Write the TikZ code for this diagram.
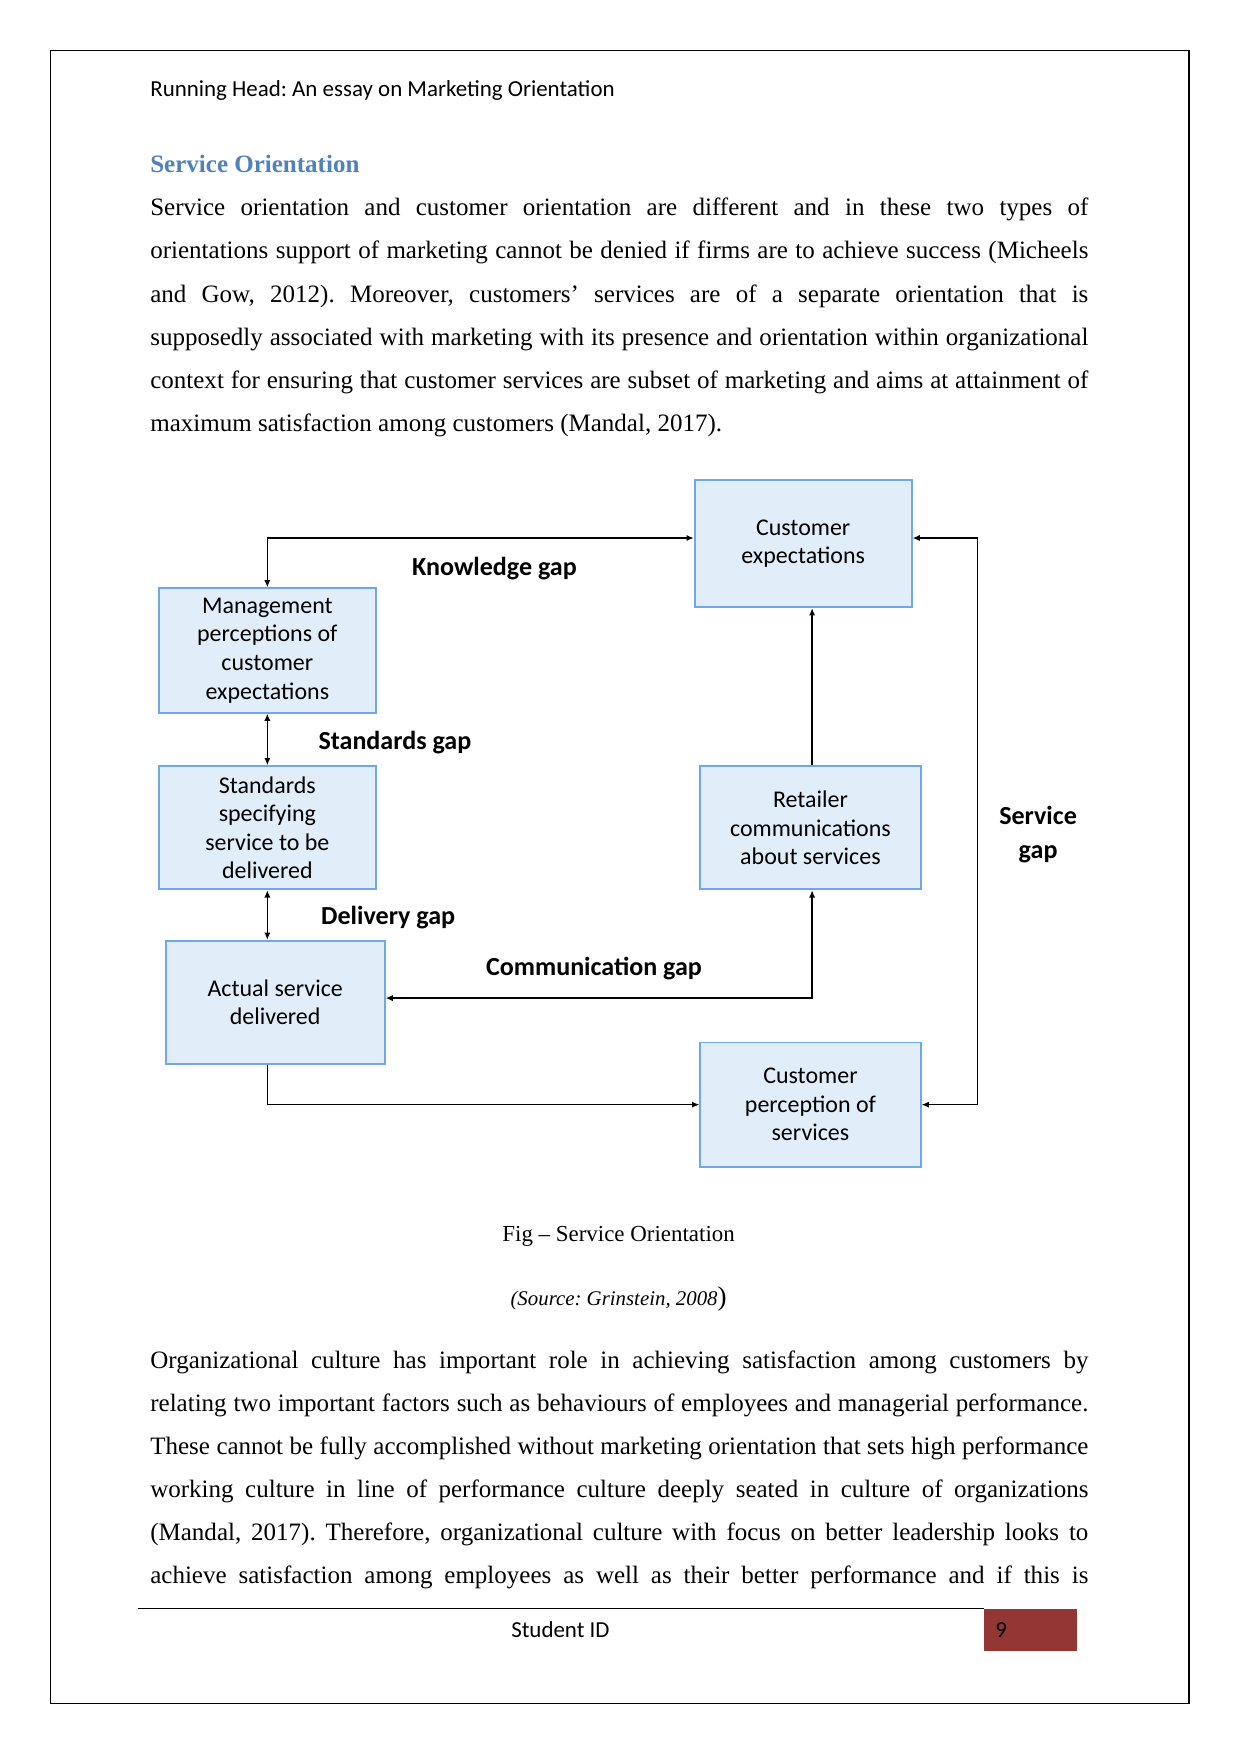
\documentclass[tikz,border=0pt]{standalone}
\usepackage{fontspec}
\setmainfont{Liberation Serif}
\newfontfamily\calibri{Carlito}
\usetikzlibrary{arrows.meta}
\definecolor{boxfill}{HTML}{E1EEFA}
\definecolor{boxline}{HTML}{6FA8E6}
\definecolor{headblue}{HTML}{4F81BD}
\definecolor{footred}{HTML}{943634}
\frenchspacing
\newcommand{\jline}[1]{\makebox[450pt][s]{#1}}
\newcommand{\plainspaces}{\spaceskip=0pt\xspaceskip=0pt}
\tikzset{
  conceptbox/.style={draw=boxline, fill=boxfill, line width=0.9pt, align=center, inner sep=0pt,
    minimum width=104pt, minimum height=60pt, font=\calibri\fontsize{11.5pt}{13.7pt}\selectfont},
  gaplabel/.style={font=\calibri\bfseries\fontsize{12.5pt}{16pt}\selectfont, align=center, inner sep=0pt},
  twoway/.style={line width=0.7pt, {Latex[length=3.5pt,width=3pt]}-{Latex[length=3.5pt,width=3pt]}},
  oneway/.style={line width=0.7pt, -{Latex[length=3.5pt,width=3pt]}},
  bodytext/.style={anchor=base west, align=left, text width=450pt, inner sep=0pt,
    font=\fontsize{12pt}{20.66pt}\selectfont},
}

\begin{document}
\begin{tikzpicture}[x=0.5366pt, y=-0.5366pt]
  \useasboundingbox (0,0) rectangle (1109,1568);
  % page frame and header
  \draw[line width=0.6pt] (45,45) rectangle (1063,1523);
  \node[anchor=base west, inner sep=0pt, font=\calibri\fontsize{11pt}{13pt}\selectfont] (runhead) at (134,86) {Running Head: An essay on Marketing Orientation};
  \node[anchor=base west, inner sep=0pt, text=headblue, font=\bfseries\fontsize{12pt}{14pt}\selectfont] (heading) at (134,154) {Service Orientation};
  \node[bodytext] (para1) at (134,193) {\plainspaces
    \jline{Service orientation and customer orientation are different and in these two types of}\\
    \jline{orientations support of marketing cannot be denied if firms are to achieve success (Micheels}\\
    \jline{and Gow, 2012). Moreover, customers’ services are of a separate orientation that is}\\
    \jline{supposedly associated with marketing with its presence and orientation within organizational}\\
    \jline{context for ensuring that customer services are subset of marketing and aims at attainment of}\\
    maximum satisfaction among customers (Mandal, 2017).};

  % diagram
  \node[conceptbox, minimum height=61pt] (custexp) at (718,486) {Customer\\expectations};
  \node[conceptbox, minimum height=59.6pt] (mgmt) at (239,581.5) {Management\\perceptions of\\customer\\expectations};
  \node[conceptbox, minimum height=59pt] (std) at (239,740) {Standards\\specifying\\service to be\\delivered};
  \node[conceptbox, minimum width=105pt, minimum height=59pt] (actual) at (246,896) {Actual service\\delivered};
  \node[conceptbox, minimum width=105.7pt, minimum height=59pt] (retail) at (724.5,740) {Retailer\\communications\\about services};
  \node[conceptbox, minimum width=105.7pt, minimum height=59.6pt] (percep) at (724.5,987.5) {Customer\\perception of\\services};
  \coordinate (svcturn) at (874,740);

  \draw[twoway] (mgmt.north) |- ([yshift=2.7pt]custexp.west);
  \draw[twoway] (mgmt.south) -- (std.north);
  \draw[twoway] (std.south) -- (std.south |- actual.north);
  \draw[twoway] ([xshift=0.8pt]retail.south) |- ([yshift=2pt]actual.east);
  \draw[oneway] ([xshift=0.8pt]retail.north) -- ([xshift=0.8pt]retail.north |- custexp.south);
  \draw[oneway] (std.south |- actual.south) |- (percep.west);
  \draw[twoway] ([yshift=2.7pt]custexp.east) -| (svcturn) |- (percep.east);

  \node[gaplabel] (knowgap) at (442,508) {Knowledge gap};
  \node[gaplabel] (stdgap) at (353,664) {Standards gap};
  \node[gaplabel] (delgap) at (347,820) {Delivery gap};
  \node[gaplabel] (commgap) at (531,866) {Communication gap};
  \node[gaplabel] (svcgap) at (928,746) {Service\\gap};

  % caption
  \node[anchor=base, inner sep=0pt, font=\fontsize{11pt}{13pt}\selectfont] (caption) at (553,1110) {Fig – Service Orientation};
  \node[anchor=base, inner sep=0pt, font=\fontsize{10pt}{12pt}\selectfont] (source) at (553,1167) {\itshape(Source: Grinstein, 2008\upshape{\fontsize{13pt}{13pt}\selectfont)}};

  \node[bodytext] (para2) at (134,1223) {\plainspaces
    \jline{Organizational culture has important role in achieving satisfaction among customers by}\\
    \jline{relating two important factors such as behaviours of employees and managerial performance.}\\
    \jline{These cannot be fully accomplished without marketing orientation that sets high performance}\\
    \jline{working culture in line of performance culture deeply seated in culture of organizations}\\
    \jline{(Mandal, 2017). Therefore, organizational culture with focus on better leadership looks to}\\
    \jline{achieve satisfaction among employees as well as their better performance and if this is}};

  % footer
  \draw[line width=0.6pt] (123,1438) -- (880,1438);
  \fill[footred] (880,1438) rectangle (963,1476);
  \node[anchor=base, inner sep=0pt, font=\calibri\fontsize{11pt}{13pt}\selectfont] (studentid) at (501,1464) {Student ID};
  \node[anchor=base, inner sep=0pt, font=\calibri\fontsize{11pt}{13pt}\selectfont] (pagenum) at (895,1464) {9};
\end{tikzpicture}
\end{document}
